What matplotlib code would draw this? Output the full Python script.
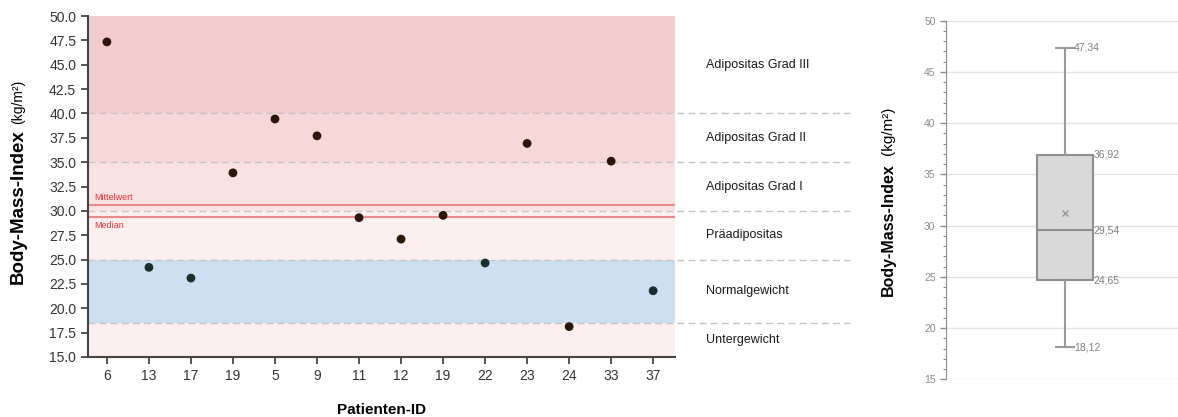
import matplotlib
matplotlib.use("Agg")
import matplotlib.pyplot as plt
import matplotlib.transforms as mtransforms
import numpy as np

plt.rcParams["font.family"] = ["Liberation Sans", "DejaVu Sans"]

# data
patient_ids = ["6", "13", "17", "19", "5", "9", "11", "12", "19", "22", "23", "24", "33", "37"]
bmi = [47.34, 24.2, 23.1, 33.9, 39.43, 37.7, 29.3, 27.1, 29.54, 24.65, 36.92, 18.12, 35.1, 21.8]

class_edges = [15.0, 18.5, 25.0, 30.0, 35.0, 40.0, 50.0]
class_names = ["Untergewicht", "Normalgewicht", "Präadipositas",
               "Adipositas Grad I", "Adipositas Grad II", "Adipositas Grad III"]
class_colors = ["#fcefef", "#cce0f1", "#fcefef", "#f8e2e2", "#f6d8d9", "#f2cbcc"]

box_stats = {"whislo": 18.12, "q1": 24.65, "med": 29.54, "q3": 36.92, "whishi": 47.34, "mean": 31.2}

W, H = 1178, 417
fig = plt.figure(figsize=(W / 100, H / 100), dpi=100)


def px_axes(left, top, right, bottom):
    return fig.add_axes([left / W, 1 - bottom / H, (right - left) / W, (bottom - top) / H])


# ---- left: scatter with BMI classes ----
ax = px_axes(88, 16, 675, 357)
x = np.arange(len(bmi))
ax.set_xlim(-0.45, len(bmi) - 0.48)
ax.set_ylim(15, 50)

for lo, hi, col in zip(class_edges[:-1], class_edges[1:], class_colors):
    ax.axhspan(lo, hi, color=col, lw=0, zorder=0)

for edge in class_edges[1:-1]:
    ax.axhline(edge, xmin=0, xmax=(850 - 88) / 587, color="#c4c4c4", lw=1.0,
               ls=(0, (5, 3)), clip_on=False, zorder=1)

mean_val = np.mean(bmi)
med_val = np.median(bmi)
ax.axhline(mean_val, color="#e88b8d", lw=1.5, zorder=2)
ax.axhline(med_val, color="#e88b8d", lw=1.5, zorder=2)
ax.text(-0.3, mean_val + 0.35, "Mittelwert", color="#e8343a", fontsize=6.5, va="bottom", ha="left")
ax.text(-0.3, med_val - 0.5, "Median", color="#e8343a", fontsize=6.5, va="top", ha="left")

pt_colors = ["#17302c" if 18.5 <= v < 25 else "#2a1709" for v in bmi]
ax.scatter(x, bmi, s=40, c=pt_colors, zorder=3, edgecolors="none")

trans = mtransforms.blended_transform_factory(ax.transAxes, ax.transData)
for lo, hi, name in zip(class_edges[:-1], class_edges[1:], class_names):
    ax.text(1.053, (lo + hi) / 2, name, transform=trans, fontsize=9, color="#1a1a1a",
            va="center", ha="left")

ax.set_xticks(x)
ax.set_xticklabels(patient_ids)
ax.set_yticks(np.arange(15, 50.1, 2.5))
ax.set_yticklabels([f"{v:.1f}" for v in np.arange(15, 50.1, 2.5)])
ax.tick_params(axis="both", labelsize=10, labelcolor="#333333", color="#444444",
               length=5, width=1.3, direction="out")
ax.tick_params(axis="x", pad=4)
for s in ["top", "right"]:
    ax.spines[s].set_visible(False)
for s in ["left", "bottom"]:
    ax.spines[s].set_color("#444444")
    ax.spines[s].set_linewidth(1.5)

ax.set_xlabel("Patienten-ID", fontsize=11, fontweight="bold", labelpad=14)
fig.text(18 / W, 1 - 284 / H, "Body-Mass-Index", rotation=90, rotation_mode="anchor",
         ha="left", va="center", fontsize=13.5, fontweight="bold")
fig.text(18 / W, 1 - 124 / H, "(kg/m²)", rotation=90, rotation_mode="anchor",
         ha="left", va="center", fontsize=10)

# ---- right: box plot ----
bx = px_axes(946, 20.7, 1178, 379.3)
bx.set_xlim(0, 1)
bx.set_ylim(15, 50)
pos = 0.512
bx.bxp([dict(box_stats, fliers=[])], positions=[pos], widths=0.24, capwidths=0.078,
       showmeans=True, patch_artist=True,
       boxprops=dict(facecolor="#d9d9d9", edgecolor="#8f8f8f", lw=1.5),
       medianprops=dict(color="#8f8f8f", lw=1.5),
       whiskerprops=dict(color="#9a9a9a", lw=1.5),
       capprops=dict(color="#9a9a9a", lw=1.5),
       meanprops=dict(marker="x", markeredgecolor="#9a9a9a", markersize=4, markeredgewidth=1))

for key in ["whishi", "whislo"]:
    bx.text(pos + 0.04, box_stats[key], f"{box_stats[key]:.2f}".replace(".", ","),
            fontsize=7.5, color="#7f7f7f", va="center", ha="left")
for key in ["q3", "med", "q1"]:
    bx.text(pos + 0.123, box_stats[key], f"{box_stats[key]:.2f}".replace(".", ","),
            fontsize=7.5, color="#7f7f7f", va="center", ha="left")

bx.set_yticks(np.arange(15, 51, 5))
bx.set_yticks(np.arange(15, 51, 1), minor=True)
bx.yaxis.grid(True, which="major", color="#e3e3e3", lw=1)
bx.set_axisbelow(True)
bx.set_xticks([])
bx.tick_params(axis="y", which="major", labelsize=7.5, labelcolor="#8c8c8c", color="#8c8c8c",
               length=4, width=1)
bx.tick_params(axis="y", which="minor", color="#8c8c8c", length=2, width=0.8)
for s in ["top", "right", "bottom"]:
    bx.spines[s].set_visible(False)
bx.spines["left"].set_color("#8c8c8c")

fig.text(888 / W, 1 - 296 / H, "Body-Mass-Index", rotation=90, rotation_mode="anchor",
         ha="left", va="center", fontsize=11.5, fontweight="bold")
fig.text(888 / W, 1 - 155 / H, "(kg/m²)", rotation=90, rotation_mode="anchor",
         ha="left", va="center", fontsize=11)

fig.savefig("out.png", dpi=100)
